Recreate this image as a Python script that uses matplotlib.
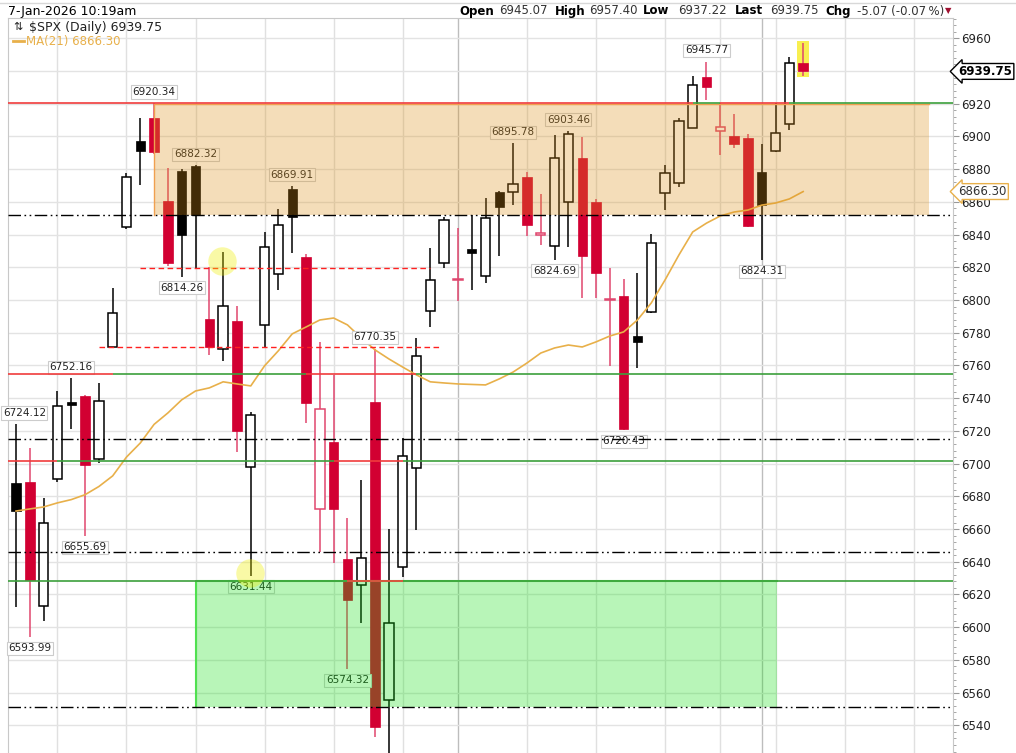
import matplotlib
matplotlib.use("Agg")
import matplotlib.pyplot as plt
from matplotlib.patches import Rectangle
from matplotlib.lines import Line2D
from matplotlib.ticker import MultipleLocator, FuncFormatter

# $SPX daily candles, 15-Oct-2025 .. 7-Jan-2026 (one entry per trading day)
opens = [6688.0, 6688.8, 6613.0, 6690.7, 6737.5, 6741.4, 6702.8, 6771.3, 6844.8, 6897.2,
         6911.0, 6860.6, 6879.0, 6882.0, 6788.5, 6770.1, 6787.2, 6697.9, 6784.7, 6816.0,
         6867.9, 6826.4, 6672.3, 6713.3, 6641.8, 6625.9, 6737.7, 6555.5, 6637.0, 6697.4,
         6793.3, 6822.7, 6812.0, 6831.0, 6814.7, 6866.0, 6866.0, 6875.3, 6840.0, 6833.0,
         6860.0, 6886.8, 6860.0, 6800.0, 6802.5, 6778.0, 6792.7, 6865.4, 6871.5, 6905.2,
         6936.3, 6903.3, 6900.3, 6899.0, 6878.3, 6891.1, 6907.6, 6945.07]
highs = [6724.12, 6709.7, 6679.0, 6744.4, 6752.16, 6742.0, 6749.3, 6807.4, 6877.7, 6911.3,
         6920.34, 6880.7, 6880.0, 6882.32, 6820.3, 6829.4, 6796.4, 6731.5, 6841.6, 6855.7,
         6869.91, 6828.2, 6774.3, 6754.0, 6666.9, 6690.0, 6770.35, 6660.0, 6715.8, 6776.9,
         6831.8, 6850.8, 6844.0, 6852.0, 6862.4, 6866.5, 6895.78, 6878.3, 6864.8, 6900.9,
         6903.46, 6899.7, 6861.8, 6819.5, 6812.9, 6816.5, 6840.4, 6882.6, 6911.3, 6937.0,
         6945.77, 6920.4, 6913.7, 6901.5, 6895.4, 6920.4, 6948.6, 6957.40]
lows = [6612.5, 6593.99, 6603.8, 6689.0, 6721.0, 6655.69, 6700.4, 6770.5, 6843.6, 6870.4,
        6889.0, 6820.8, 6814.26, 6819.7, 6766.4, 6762.7, 6707.1, 6631.44, 6770.7, 6806.3,
        6828.8, 6724.9, 6646.0, 6639.3, 6574.32, 6602.5, 6533.0, 6521.0, 6630.9, 6659.4,
        6783.5, 6819.6, 6799.5, 6806.0, 6810.4, 6826.9, 6858.0, 6839.0, 6833.6, 6824.69,
        6832.6, 6801.0, 6801.0, 6759.8, 6720.43, 6758.5, 6792.0, 6855.0, 6869.0, 6905.0,
        6922.3, 6888.7, 6893.0, 6844.5, 6824.31, 6890.5, 6904.0, 6937.22]
closes = [6671.0, 6628.9, 6663.8, 6735.3, 6736.0, 6699.3, 6738.3, 6792.1, 6875.3, 6890.89,
          6890.59, 6822.7, 6839.8, 6852.0, 6771.3, 6796.4, 6720.0, 6729.7, 6832.4, 6845.9,
          6850.8, 6737.1, 6733.4, 6672.3, 6616.7, 6642.4, 6539.0, 6602.5, 6704.8, 6765.9,
          6812.3, 6849.0, 6812.9, 6829.0, 6850.2, 6856.9, 6871.0, 6846.0, 6841.0, 6886.8,
          6901.6, 6827.0, 6816.6, 6800.6, 6721.2, 6774.4, 6834.9, 6877.7, 6909.4, 6931.5,
          6930.2, 6905.8, 6895.4, 6845.0, 6858.1, 6902.1, 6944.82, 6939.75]
ma21 = [6671.0, 6672.3, 6673.5, 6676.0, 6678.0, 6681.0, 6686.0, 6692.5, 6704.0, 6712.6,
        6724.0, 6731.0, 6739.0, 6744.4, 6746.3, 6750.0, 6748.7, 6747.5, 6759.8, 6769.0,
        6779.3, 6783.5, 6787.8, 6789.0, 6784.8, 6776.8, 6769.5, 6764.0, 6759.0, 6754.2,
        6750.0, 6749.3, 6748.7, 6748.4, 6748.1, 6751.8, 6756.0, 6761.5, 6767.6, 6770.7,
        6772.5, 6771.3, 6774.4, 6778.0, 6780.5, 6787.8, 6798.2, 6812.3, 6827.5, 6841.6,
        6847.0, 6851.4, 6853.8, 6855.0, 6858.0, 6859.3, 6861.8, 6866.30]

# price labels on highs / lows
high_marks = [0, 4, 10, 13, 20, 26, 36, 40, 50]
low_marks = [1, 5, 12, 17, 24, 39, 44, 54]

# week starts (Mondays) and month starts, in trading-day index
week_lines = [3, 8, 13, 18, 23, 28, 37, 42, 47, 51, 55, 60, 65]
month_lines = [32, 54]

# annotation levels
dashdot_levels = [6852.0, 6714.8, 6646.0, 6551.4]
red_dash_levels = [6819.5, 6771.3]
red_dash_from = [9, 6]
red_dash_to = [30, 30.85]
seg_levels = [6920.3, 6754.5, 6701.6, 6628.4]
seg_breaks = [[49, 51, 56], [7, 21, 29], [3, 23, 28], [24, 28]]
seg_first = ['red', 'red', 'red', 'green']
orange_zone = (10, 66.1, 6852.0, 6920.0)
green_zone = (13, 55.1, 6551.4, 6628.4)
circles_x = [14.9, 16.95]
circles_y = [6823.9, 6633.2]

RED = '#d20032'
RED_WICK = '#e0466e'
LRED = '#f03c3c'
LGREEN = '#3ca03c'
MA_COL = '#e8b04a'

n = len(closes)
xs = list(range(n))
x_lo, x_hi = -0.58, 67.85

fig = plt.figure(figsize=(10.16, 7.53), dpi=100)
ax = fig.add_axes([8/1016, 0, 945/1016, 735/753])
ax.set_xlim(x_lo, x_hi)
ax.set_ylim(6523.1, 6972.4)

# grid
ax.yaxis.set_major_locator(MultipleLocator(20))
ax.yaxis.set_minor_locator(MultipleLocator(4))
ax.grid(axis='y', color='#e3e3e3', lw=1.0, zorder=0)
for d in week_lines:
    ax.axvline(d, color='#e0e0e0', lw=1.0, zorder=0)
for d in month_lines:
    ax.axvline(d, color='#bdbdbd', lw=1.0, zorder=0)

# highlight behind last candle
ax.add_patch(Rectangle((n - 1 - 0.43, lows[-1] - 1), 0.86, highs[-1] - lows[-1] + 2,
                       fc='#f8ef50', ec='none', zorder=1))

# candles
body_w = 0.68
for i in xs:
    o, h, l, c = opens[i], highs[i], lows[i], closes[i]
    down = i > 0 and c < closes[i - 1]
    col = RED if down else 'black'
    wick = RED_WICK if down else 'black'
    ax.vlines(i, l, h, color=wick, lw=1.1, zorder=2)
    bot = min(o, c)
    hgt = max(abs(c - o), 0.6)
    if c > o:
        ax.add_patch(Rectangle((i - body_w/2, bot), body_w, hgt, fc='white',
                               ec=(RED_WICK if down else 'black'), lw=1.1, zorder=3))
    else:
        ax.add_patch(Rectangle((i - body_w/2, bot), body_w, hgt, fc=col,
                               ec=col, lw=0.5, zorder=3))

# moving average
ax.plot(xs, ma21, color=MA_COL, lw=1.2, zorder=4)

# high / low labels
for i in high_marks:
    dx = 6 if i == 0 else 0
    ax.annotate(f"{highs[i]:.2f}", (i, highs[i]), xytext=(dx, 8), textcoords='offset points',
                ha='center', va='center', fontsize=7.5, color='#222222', zorder=5,
                bbox=dict(boxstyle='square,pad=0.15', fc='white', ec='#cccccc', lw=0.8))
for i in low_marks:
    ax.annotate(f"{lows[i]:.2f}", (i, lows[i]), xytext=(0, -8), textcoords='offset points',
                ha='center', va='center', fontsize=7.5, color='#222222', zorder=5,
                bbox=dict(boxstyle='square,pad=0.15', fc='white', ec='#cccccc', lw=0.8))

# zones drawn over candles
x0, x1, y0, y1 = orange_zone
ax.add_patch(Rectangle((x0, y0), x1 - x0, y1 - y0, fc='#dc9119', alpha=0.3, ec='none', zorder=6))
ax.plot([x0, x0, x1], [y0, y1, y1], color='#f0a050', lw=1.0, zorder=6)
x0, x1, y0, y1 = green_zone
ax.add_patch(Rectangle((x0, y0), x1 - x0, y1 - y0, fc='#14e114', alpha=0.3, ec='none', zorder=6))
ax.plot([x0, x0, x1], [y0, y1, y1], color='#50e050', lw=1.5, zorder=6)

# horizontal levels
for lv in dashdot_levels:
    ln, = ax.plot([x_lo, 67.6], [lv, lv], color='black', lw=1.0, zorder=7)
    ln.set_dashes([9, 2.5, 1.2, 2.5, 1.2, 2.5])
for lv, a, b in zip(red_dash_levels, red_dash_from, red_dash_to):
    ln, = ax.plot([a, b], [lv, lv], color='#ff2020', lw=1.0, zorder=7)
    ln.set_dashes([4, 2.5])
for lv, brk, first in zip(seg_levels, seg_breaks, seg_first):
    pts = [x_lo] + brk + [x_hi]
    col = first
    for a, b in zip(pts[:-1], pts[1:]):
        ax.plot([a, b], [lv, lv], color=(LRED if col == 'red' else LGREEN), lw=1.2, zorder=7,
                solid_capstyle='butt')
        col = 'green' if col == 'red' else 'red'

# yellow markers
ax.scatter(circles_x, circles_y, s=420, color='#f0f000', alpha=0.35, lw=0, zorder=8)

# axes styling; the 6940 label sits under the last-price tag
def price_fmt(v, pos):
    return "" if abs(v - 6940) < 1 else f"{v:.0f}"

ax.yaxis.tick_right()
ax.yaxis.set_major_formatter(FuncFormatter(price_fmt))
ax.tick_params(axis='y', which='major', length=4, color='#999999', labelsize=8.5,
               labelcolor='#222222', pad=2)
ax.tick_params(axis='y', which='minor', length=2, color='#999999')
ax.set_xticks([])
for s in ['left', 'right', 'top']:
    ax.spines[s].set_color('#c8c8c8')
ax.spines['bottom'].set_visible(False)

# right-hand value tags
ax.annotate(f"{closes[-1]:.2f}", (1.0, closes[-1]), xycoords=('axes fraction', 'data'),
            xytext=(4, 0), textcoords='offset points', ha='left', va='center',
            fontsize=8.5, fontweight='bold', color='black', annotation_clip=False, zorder=10,
            bbox=dict(boxstyle='larrow,pad=0.12', fc='white', ec='black', lw=1.0))
ax.annotate(f"{ma21[-1]:.2f}", (1.0, ma21[-1]), xycoords=('axes fraction', 'data'),
            xytext=(4, 0), textcoords='offset points', ha='left', va='center',
            fontsize=8.5, color='#333333', annotation_clip=False, zorder=10,
            bbox=dict(boxstyle='larrow,pad=0.12', fc='white', ec=MA_COL, lw=1.0))

# legend block
fig.text(29/1016, 1 - 27/753, r"\$SPX (Daily) " + f"{closes[-1]:.2f}", fontsize=9,
         color='#222222', va='center', ha='left')
fig.text(13/1016, 1 - 27/753, "\u21c5", fontsize=8, color='#222222', va='center', ha='left')
fig.add_artist(Line2D([13/1016, 24/1016], [1 - 41/753, 1 - 41/753], color=MA_COL, lw=2))
fig.text(26/1016, 1 - 41/753, f"MA(21) {ma21[-1]:.2f}", fontsize=8.5, color=MA_COL,
         va='center', ha='left')

# header strip
fig.add_artist(Line2D([0, 1], [1 - 3/753, 1 - 3/753], color='#d8d8d8', lw=1))
fig.text(8/1016, 1 - 11/753, "7-Jan-2026 10:19am", fontsize=9, color='black',
         va='center', ha='left')
chg = closes[-1] - closes[-2]
pct = chg / closes[-2] * 100
header = [("Open", True, 459), (f"{opens[-1]:.2f}", False, 499),
          ("High", True, 555), (f"{highs[-1]:.2f}", False, 589),
          ("Low", True, 643), (f"{lows[-1]:.2f}", False, 678),
          ("Last", True, 735), (f"{closes[-1]:.2f}", False, 770),
          ("Chg", True, 825), (f"{chg:.2f} ({pct:.2f}\u2009%)", False, 857)]
for txt, bold, px in header:
    fig.text(px/1016, 1 - 11/753, txt, fontsize=8.5, va='center', ha='left',
             fontweight=('bold' if bold else 'normal'), color=('black' if bold else '#333333'))
fig.text(945/1016, 1 - 11/753, "\u25bc", fontsize=6, color='#a01030', va='center', ha='left')

fig.savefig("out.png", dpi=100)
